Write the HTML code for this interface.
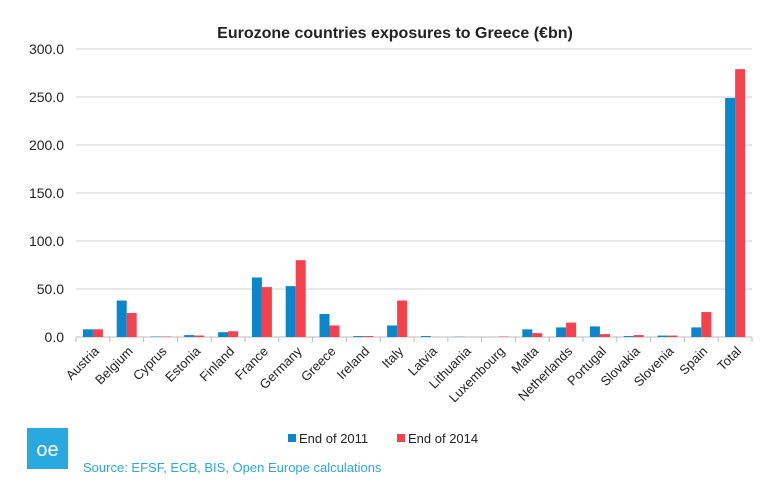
<!DOCTYPE html>
<html><head><meta charset="utf-8"><style>
body{margin:0;background:#fff;width:764px;height:481px;overflow:hidden;font-family:"Liberation Sans",sans-serif}
</style></head><body>
<svg id="c" width="764" height="481">
<text x="395" y="38" text-anchor="middle" font-size="16" font-weight="bold" fill="#222">Eurozone countries exposures to Greece (€bn)</text>
<g id="grid"></g><g id="bars"></g><g id="xl"></g>
<g>
<rect x="288" y="434" width="8" height="8" fill="#0a87cc"/>
<text x="299" y="443" font-size="13" fill="#222">End of 2011</text>
<rect x="397" y="434" width="8" height="8" fill="#f5414c"/>
<text x="408" y="443" font-size="13" fill="#222">End of 2014</text>
</g>
<rect x="27" y="428" width="41" height="41" fill="#2aa8e0"/>
<text x="47.5" y="456" text-anchor="middle" font-size="20" fill="#fff">oe</text>
<text x="83" y="472" font-size="13" fill="#2aa8e0">Source: EFSF, ECB, BIS, Open Europe calculations</text>
</svg>
<script>
const categories=["Austria","Belgium","Cyprus","Estonia","Finland","France","Germany","Greece","Ireland","Italy","Latvia","Lithuania","Luxembourg","Malta","Netherlands","Portugal","Slovakia","Slovenia","Spain","Total"];
const end2011=[8,38,0.5,2,5,62,53,24,1,12,1,0.3,0,8,10,11,1,1.5,10,249];
const end2014=[8,25,0.5,1.5,6,52,80,12,1,38,0,0,0.5,4,15,3,2,1.5,26,279];
const ticks=[0,50,100,150,200,250,300];
const NS='http://www.w3.org/2000/svg';
const x0=76,x1=752,y0=337,y1=49,max=300;
const bw=(x1-x0)/categories.length;
const Y=v=>y0-(v/max)*(y0-y1);
const X=i=>x0+bw*i;
function mk(t,a,p){const e=document.createElementNS(NS,t);for(const k in a)e.setAttribute(k,a[k]);p.appendChild(e);return e;}
const g=document.getElementById('grid'),b=document.getElementById('bars'),xl=document.getElementById('xl');
ticks.forEach(t=>{
 const l=mk('line',{x1:x0,x2:x1,y1:Y(t),y2:Y(t),stroke:t?'#d0d0d0':'#bbb','stroke-width':1},g);
 
 
 const tx=mk('text',{x:x0-12,y:Y(t)+5,'text-anchor':'end','font-size':14,fill:'#222'},g);
 tx.textContent=t.toFixed(1);
 
 
});
categories.forEach((c,i)=>{
 const tk=mk('line',{x1:X(i),x2:X(i),y1:y0,y2:y0+5,stroke:'#bbb'},g);
 
 
 const cx=X(i)+bw/2,w=10;
 const r1=mk('rect',{x:cx-w,y:Y(end2011[i]),width:w,height:y0-Y(end2011[i]),fill:'#0a87cc'},b);
 
 
 const r2=mk('rect',{x:cx,y:Y(end2014[i]),width:w,height:y0-Y(end2014[i]),fill:'#f5414c'},b);
 
 
 const t=mk('text',{x:cx+7,y:y0+15,'text-anchor':'end','font-size':13,fill:'#222',transform:`rotate(-45 ${cx+7} ${y0+15})`},xl);
 t.textContent=c;
 
 
});
mk('line',{x1:x1,x2:x1,y1:y0,y2:y0+5,stroke:'#bbb'},g);
</script>
</body></html>
